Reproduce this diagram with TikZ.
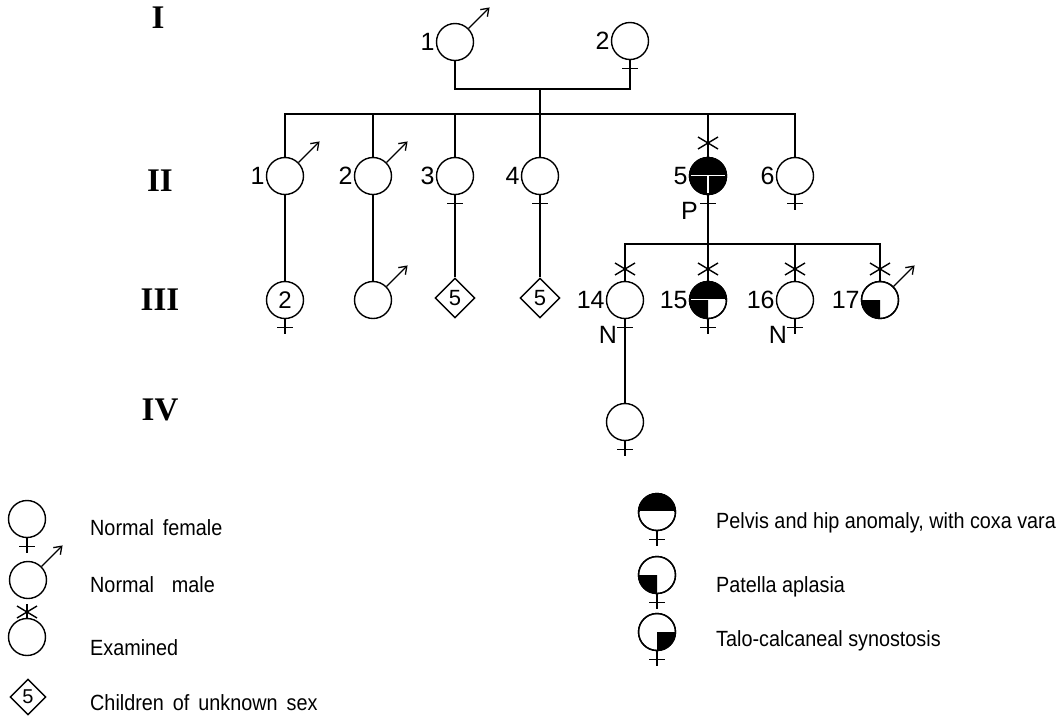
\documentclass[tikz,border=0pt]{standalone}
\usepackage{fontspec}
\newfontfamily\sff{Liberation Sans}
\newfontfamily\lgdf{Liberation Sans}[FakeStretch=0.9]
\newfontfamily\genf{Liberation Serif}
\usetikzlibrary{shapes.geometric,arrows.meta,calc}

\tikzset{
  ln/.style={line width=1.4pt},
  person/.style={circle, draw, line width=1.4pt, minimum size=37pt, inner sep=0pt, font=\sff\fontsize{24}{24}\selectfont},
  unk/.style={diamond, draw, line width=1.4pt, minimum size=40pt, inner sep=0pt, font=\sff\fontsize{22}{22}\selectfont},
  num/.style={font=\sff\fontsize{25}{25}\selectfont, inner sep=1pt},
  gen/.style={font=\genf\bfseries\fontsize{33}{33}\selectfont},
  lgd/.style={font=\lgdf\fontsize{22}{22}\selectfont, anchor=west, inner sep=0pt},
  malearrow/.style={line width=1.3pt, -{Straight Barb[length=7pt,width=10pt,line width=1.3pt]}},
}

\newcommand\femcross[1]{%
  \draw[ln] (#1.south) -- ++(0,-15) coordinate (#1-f);
  \draw[ln] ($(#1.south)+(-8,-8.5)$) -- ++(16,0);
}
\newcommand\malearr[1]{\draw[malearrow] (#1.45) -- ++(21,21);}
\newcommand\exmark[1]{%
  \draw[ln] ($(#1)+(-10,6)$) -- ++(20,-12) ($(#1)+(-10,-6)$) -- ++(20,12);}
\newcommand\fillTop[1]{\fill ($(#1.center)+(18.5,0)$) arc (0:180:18.5) -- cycle;
  \draw[white,line width=1.6pt] ($(#1.center)+(-17.3,0)$) -- ++(34.6,0);}
\newcommand\fillBL[1]{\fill (#1.center) -- ++(-18.5,0) arc (180:270:18.5) -- cycle;}
\newcommand\fillBR[1]{\fill (#1.center) -- ++(0,-18.5) arc (270:360:18.5) -- cycle;}
\newcommand\vgap[1]{\draw[white,line width=1.6pt] (#1.center) -- ++(0,-17.3);}
\newcommand\wsp{\hspace{9pt}}

\begin{document}
\begin{tikzpicture}[x=1pt,y=1pt]
\useasboundingbox (0,0) rectangle (1063,-724);

% generation labels
\node[gen] (gI) at (158,-18) {I};
\node[gen] (gII) at (160,-181) {II};
\node[gen] (gIII) at (160,-300) {III};
\node[gen] (gIV) at (160,-410) {IV};

% generation I
\node[person, label={[num]left:1}] (I1) at (455,-42) {};
\node[person, label={[num]left:2}] (I2) at (630,-41) {};
\malearr{I1}
\femcross{I2}
\coordinate (mI) at (540,-89);
\coordinate (sII) at (540,-114);
\draw[ln] (I1.south) |- (I2.south |- mI) -- (I2-f);
\draw[ln] (mI) -- (sII);

% generation II
\node[person, label={[num]left:1}] (II1) at (285,-176) {};
\node[person, label={[num]left:2}] (II2) at (373,-176) {};
\node[person, label={[num]left:3}] (II3) at (455,-176) {};
\node[person, label={[num]left:4}] (II4) at (540,-176) {};
\node[person, label={[num]left:5}] (II5) at (708,-176) {};
\node[person, label={[num]left:6}] (II6) at (795,-176) {};
\fillTop{II5}\fillBL{II5}\fillBR{II5}\vgap{II5}
\draw[ln] (II5) circle (18.5);
\malearr{II1}\malearr{II2}
\femcross{II3}\femcross{II4}\femcross{II5}\femcross{II6}
\draw[ln] (II1.north) |- (II6.north |- sII) -- (II6.north);
\foreach \n in {II2,II3,II4,II5} \draw[ln] (\n.north) -- (\n.north |- sII);
\coordinate (xII5) at (708,-143);
\exmark{xII5}
\node[num, anchor=east] (P5) at ($(II5-f)+(-9,-1)$) {P};

% generation III
\node[person] (III1) at (285,-300) {2};
\node[person] (III2) at (373,-300) {};
\node[unk] (III3) at (455,-298) {5};
\node[unk] (III4) at (540,-298) {5};
\femcross{III1}
\malearr{III2}
\draw[ln] (II1.south) -- (III1.north);
\draw[ln] (II2.south) -- (III2.north);
\draw[ln] (II3-f) -- (III3.north);
\draw[ln] (II4-f) -- (III4.north);

\coordinate (sIII) at (708,-244);
\node[person, label={[num]left:14}] (III14) at (625,-300) {};
\node[person, label={[num]left:15}] (III15) at (708,-300) {};
\node[person, label={[num]left:16}] (III16) at (795,-300) {};
\node[person, label={[num]left:17}] (III17) at (880,-300) {};
\fillTop{III15}\fillBL{III15}
\draw[ln] (III15) circle (18.5);
\fillBL{III17}
\draw[ln] (III17) circle (18.5);
\femcross{III14}\femcross{III15}\femcross{III16}
\malearr{III17}
\draw[ln] (II5-f) -- (sIII);
\draw[ln] (III14.north) |- (III17.north |- sIII) -- (III17.north);
\foreach \n in {III15,III16} \draw[ln] (\n.north) -- (\n.north |- sIII);
\foreach \n/\xx in {III14/625,III15/708,III16/795,III17/880} {
  \coordinate (x\n) at (\xx,-269);
  \exmark{x\n}
}
\node[num, anchor=east] (N14) at ($(III14-f)+(-7,-1)$) {N};
\node[num, anchor=east] (N16) at ($(III16-f)+(-7,-1)$) {N};

% generation IV
\node[person] (IV1) at (625,-422) {};
\femcross{IV1}
\draw[ln] (III14-f) -- (IV1.north);

% legend left
\node[person] (LF) at (27,-519) {};
\femcross{LF}
\node[person] (LM) at (28,-580) {};
\malearr{LM}
\node[person] (LE) at (27,-637) {};
\coordinate (LEx) at (27,-612);
\draw[ln] (27,-604) coordinate (LEt) -- (LE.north);
\exmark{LEx}
\node[unk, minimum size=36pt, font=\sff\fontsize{20}{20}\selectfont] (LD) at (28,-697) {5};
\node[lgd] (tLF) at (90,-528) {Normal\wsp female};
\node[lgd] (tLM) at (90,-585) {Normal\wsp\wsp male};
\node[lgd] (tLE) at (90,-648) {Examined};
\node[lgd] (tLD) at (90,-703) {Children\wsp of\wsp unknown\wsp sex};

% legend right
\node[person] (RP) at (657,-512) {};
\fillTop{RP}\draw[ln] (RP) circle (18.5);
\femcross{RP}
\node[person] (RA) at (657,-575) {};
\fillBL{RA}\draw[ln] (RA) circle (18.5);
\femcross{RA}
\node[person] (RT) at (657,-632) {};
\fillBR{RT}\draw[ln] (RT) circle (18.5);
\femcross{RT}
\node[lgd] (tRP) at (716,-523) {Pelvis and hip anomaly, with coxa vara};
\node[lgd] (tRA) at (716,-587) {Patella aplasia};
\node[lgd] (tRT) at (716,-641) {Talo-calcaneal synostosis};
\end{tikzpicture}
\end{document}
